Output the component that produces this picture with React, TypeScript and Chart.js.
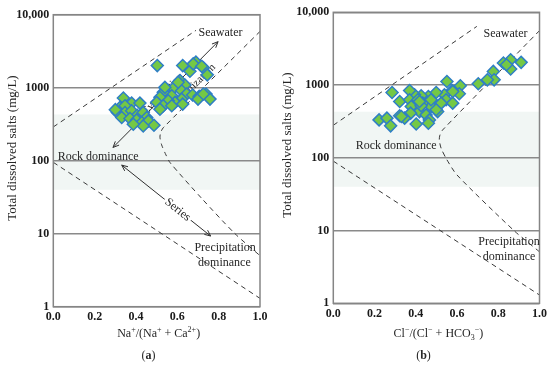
import React, { useEffect, useRef } from "react";
import { Chart, registerables } from "chart.js";

Chart.register(...registerables);

const SERIF = '"Liberation Serif", "Times New Roman", Times, serif';

// ---------- axes ----------
const xTickValues = [0, 0.2, 0.4, 0.6, 0.8, 1.0];
const yTickValues = [1, 10, 100, 1000, 10000];
const yTickLabels = ["1", "10", "100", "1000", "10,000"];

// ---------- panel (a): Na+/(Na+ + Ca2+) vs TDS ----------
const naRatio = [
  0.503, 0.626, 0.69, 0.726, 0.661, 0.745, 0.613, 0.637, 0.581, 0.621,
  0.532, 0.573, 0.516, 0.645, 0.674, 0.706, 0.739, 0.758, 0.621, 0.589,
  0.556, 0.5, 0.532, 0.573, 0.626, 0.516, 0.339, 0.379, 0.419, 0.323,
  0.347, 0.31, 0.347, 0.379, 0.406, 0.435, 0.452, 0.331, 0.371, 0.403,
  0.428, 0.46, 0.487, 0.435, 0.387, 0.3, 0.677, 0.718, 0.604, 0.54,
  0.7, 0.726,
];
const naTds = [
  2010, 2010, 2240, 1870, 1680, 1500, 1250, 1090, 980, 910,
  863, 776, 738, 819, 793, 760, 819, 698, 698, 630,
  662, 630, 565, 565, 596, 508, 722, 615, 615, 537,
  565, 458, 458, 482, 420, 458, 391, 391, 378, 362,
  333, 351, 306, 299, 316, 500, 2120, 1970, 1190, 1010,
  698, 819,
];

// ---------- panel (b): Cl-/(Cl- + HCO3-) vs TDS ----------
const clRatio = [
  0.86, 0.825, 0.911, 0.86, 0.776, 0.78, 0.747, 0.703, 0.551, 0.616,
  0.611, 0.576, 0.539, 0.499, 0.461, 0.426, 0.394, 0.37, 0.285, 0.322,
  0.37, 0.41, 0.434, 0.474, 0.506, 0.547, 0.579, 0.378, 0.418, 0.45,
  0.466, 0.461, 0.402, 0.375, 0.322, 0.346, 0.222, 0.26, 0.278, 0.474,
  0.426, 0.523, 0.84, 0.418, 0.499, 0.579, 0.33,
];
const clTds = [
  2230, 2010, 2050, 1660, 1540, 1180, 1180, 1040, 1120, 980,
  759, 843, 735, 791, 697, 711, 735, 843, 791, 594,
  627, 627, 564, 507, 432, 627, 564, 507, 432, 389,
  332, 299, 292, 411, 378, 351, 332, 351, 275, 627,
  520, 564, 1900, 594, 457, 816, 369,
];

// ---------- Gibbs boundary curves ----------
const aUpperX = [0, 0.69];
const aUpperY = [290, 6100];
const aRightX = [1.0, 0.532, 0.52, 0.516, 0.524, 0.545, 0.565, 0.72, 0.879, 1.0];
const aRightY = [5900, 283, 245, 210, 165, 120, 94, 30, 10, 5];
const aLowerX = [0, 1];
const aLowerY = [95, 1.3];

const bUpperX = [0, 0.696];
const bUpperY = [280, 6400];
const bRightX = [1.0, 0.53, 0.517, 0.514, 0.523, 0.55, 0.6, 0.876, 1.0];
const bRightY = [5600, 241, 205, 176, 135, 95, 58, 10, 5.1];
const bLowerX = [0, 1];
const bLowerY = [90, 1.3];

// shaded rock-dominance band (TDS)
const bandRange = [40, 430];

type Part = { t: string; s?: "sup" | "sub"; b?: boolean };
type Note = { text: string; x: number; y: number; size?: number };
type Arrow = { x1: number; y1: number; x2: number; y2: number; label?: string; at?: number };

interface Panel {
  xs: number[];
  ys: number[];
  bounds: [number[], number[]][];
  yAxisWidth: number;
  xAxisHeight: number;
  padTop: number;
  padRight: number;
  xTitle: Part[];
  letter: string;
  yTitle: [number, number];
  notes: Note[];
  arrows: Arrow[];
  under: Note[];
}

const panelA: Panel = {
  xs: naRatio,
  ys: naTds,
  bounds: [
    [aUpperX, aUpperY],
    [aRightX, aRightY],
    [aLowerX, aLowerY],
  ],
  yAxisWidth: 53.3,
  xAxisHeight: 58.3,
  padTop: 14.7,
  padRight: 15,
  xTitle: [
    { t: "Na" }, { t: "+", s: "sup" }, { t: "/(Na" }, { t: "+", s: "sup" },
    { t: " + Ca" }, { t: "2+", s: "sup" }, { t: ")" },
  ],
  letter: "a",
  yTitle: [12.5, 148],
  notes: [
    { text: "Seawater", x: 0.809, y: 5680 },
    { text: "Rock dominance", x: 0.217, y: 114 },
    { text: "Precipitation", x: 0.831, y: 6.5 },
    { text: "dominance", x: 0.828, y: 4.05 },
  ],
  arrows: [
    { x1: 0.289, y1: 152, x2: 0.797, y2: 4270 },
    { x1: 0.331, y1: 87, x2: 0.761, y2: 9.3, label: "Series", at: 0.63 },
  ],
  under: [
    { text: "Evaporation", x: 0.53, y: 820, size: 11 },
    { text: "crystallization", x: 0.67, y: 1000, size: 11 },
  ],
};

const panelB: Panel = {
  xs: clRatio,
  ys: clTds,
  bounds: [
    [bUpperX, bUpperY],
    [bRightX, bRightY],
    [bLowerX, bLowerY],
  ],
  yAxisWidth: 58.3,
  xAxisHeight: 61.7,
  padTop: 12.3,
  padRight: 9.3,
  xTitle: [
    { t: "Cl" }, { t: "\u2212", s: "sup" }, { t: "/(Cl" }, { t: "\u2212", s: "sup" },
    { t: " + HCO" }, { t: "3", s: "sub" }, { t: "\u2212", s: "sup" }, { t: ")" },
  ],
  letter: "b",
  yTitle: [13, 145],
  notes: [
    { text: "Seawater", x: 0.835, y: 5100 },
    { text: "Rock dominance", x: 0.305, y: 146 },
    { text: "Precipitation", x: 0.852, y: 7.0 },
    { text: "dominance", x: 0.852, y: 4.35 },
  ],
  arrows: [],
  under: [],
};

const TEXT = "#262626";

function drawRich(ctx: CanvasRenderingContext2D, parts: Part[], cx: number, cy: number, size: number) {
  const font = (p: Part) =>
    `${p.b ? "bold " : ""}${p.s ? Math.round(size * 0.7) : size}px ${SERIF}`;
  let total = 0;
  for (const p of parts) {
    ctx.font = font(p);
    total += ctx.measureText(p.t).width;
  }
  let x = cx - total / 2;
  const base = cy + size * 0.33;
  ctx.textAlign = "left";
  ctx.textBaseline = "alphabetic";
  for (const p of parts) {
    ctx.font = font(p);
    const dy = p.s === "sup" ? -size * 0.4 : p.s === "sub" ? size * 0.25 : 0;
    ctx.fillText(p.t, x, base + dy);
    x += ctx.measureText(p.t).width;
  }
}

function head(ctx: CanvasRenderingContext2D, x: number, y: number, ang: number) {
  const L = 6.5, a = 0.42;
  ctx.beginPath();
  ctx.moveTo(x - L * Math.cos(ang - a), y - L * Math.sin(ang - a));
  ctx.lineTo(x, y);
  ctx.lineTo(x - L * Math.cos(ang + a), y - L * Math.sin(ang + a));
  ctx.stroke();
}

function decor(p: Panel) {
  return {
    id: "gibbsDecor",
    beforeDraw(chart: any) {
      const { ctx, chartArea: ca, scales } = chart;
      ctx.save();
      ctx.fillStyle = "#ffffff";
      ctx.fillRect(0, 0, chart.width, chart.height);
      const yTop = scales.y.getPixelForValue(bandRange[1]);
      const yBot = scales.y.getPixelForValue(bandRange[0]);
      ctx.fillStyle = "#f1f6f4";
      ctx.fillRect(ca.left, yTop, ca.right - ca.left, yBot - yTop);
      ctx.restore();
    },
    beforeDatasetsDraw(chart: any) {
      const { ctx, scales } = chart;
      const sx = scales.x, sy = scales.y;
      ctx.save();
      ctx.strokeStyle = "#303030";
      ctx.fillStyle = TEXT;
      ctx.lineWidth = 1;
      for (const a of p.arrows) {
        const x1 = sx.getPixelForValue(a.x1), y1 = sy.getPixelForValue(a.y1);
        const x2 = sx.getPixelForValue(a.x2), y2 = sy.getPixelForValue(a.y2);
        const ang = Math.atan2(y2 - y1, x2 - x1);
        ctx.beginPath();
        ctx.moveTo(x1, y1);
        ctx.lineTo(x2, y2);
        ctx.stroke();
        head(ctx, x2, y2, ang);
        head(ctx, x1, y1, ang + Math.PI);
        if (a.label) {
          const f = a.at ?? 0.5;
          const lx = x1 + (x2 - x1) * f, ly = y1 + (y2 - y1) * f;
          ctx.save();
          ctx.translate(lx, ly);
          ctx.rotate(ang);
          ctx.font = `12px ${SERIF}`;
          const w = ctx.measureText(a.label).width;
          ctx.fillStyle = "#ffffff";
          ctx.fillRect(-w / 2 - 2, -7, w + 4, 14);
          ctx.fillStyle = TEXT;
          ctx.textAlign = "center";
          ctx.textBaseline = "middle";
          ctx.fillText(a.label, 0, 0);
          ctx.restore();
        }
      }
      if (p.arrows.length && p.under.length) {
        const a = p.arrows[0];
        const ang = Math.atan2(
          sy.getPixelForValue(a.y2) - sy.getPixelForValue(a.y1),
          sx.getPixelForValue(a.x2) - sx.getPixelForValue(a.x1)
        );
        for (const n of p.under) {
          ctx.save();
          ctx.translate(sx.getPixelForValue(n.x), sy.getPixelForValue(n.y));
          ctx.rotate(ang);
          ctx.font = `${n.size ?? 12}px ${SERIF}`;
          ctx.fillStyle = TEXT;
          ctx.textAlign = "center";
          ctx.textBaseline = "middle";
          ctx.fillText(n.text, 0, 0);
          ctx.restore();
        }
      }
      ctx.restore();
    },
    afterDraw(chart: any) {
      const { ctx, chartArea: ca, scales } = chart;
      const sx = scales.x, sy = scales.y;
      ctx.save();
      // frame
      ctx.strokeStyle = "#858585";
      ctx.lineWidth = 1.5;
      ctx.strokeRect(ca.left, ca.top, ca.right - ca.left, ca.bottom - ca.top);
      // notes
      ctx.fillStyle = TEXT;
      ctx.textAlign = "center";
      ctx.textBaseline = "middle";
      for (const n of p.notes) {
        ctx.font = `${n.size ?? 12}px ${SERIF}`;
        ctx.fillText(n.text, sx.getPixelForValue(n.x), sy.getPixelForValue(n.y));
      }
      // y title
      ctx.save();
      ctx.translate(p.yTitle[0], p.yTitle[1]);
      ctx.rotate(-Math.PI / 2);
      ctx.font = `13px ${SERIF}`;
      ctx.fillText("Total dissolved salts (mg/L)", 0, 0);
      ctx.restore();
      // x title
      drawRich(ctx, p.xTitle, (ca.left + ca.right) / 2 + 2, 333, 12);
      // panel letter
      drawRich(ctx, [{ t: "(" }, { t: p.letter, b: true }, { t: ")" }], 148.5, 355, 12);
      ctx.restore();
    },
  };
}

function buildConfig(p: Panel): any {
  return {
    type: "scatter",
    data: {
      datasets: [
        {
          label: "samples",
          data: p.xs.map((x, i) => ({ x, y: p.ys[i] })),
          pointStyle: "rectRot",
          pointRadius: 6,
          pointHoverRadius: 6,
          backgroundColor: "#74c845",
          borderColor: "#2f7fc4",
          borderWidth: 1.5,
          pointBorderWidth: 1.5,
          order: 0,
        },
        ...p.bounds.map(([bx, by]) => ({
          label: "boundary",
          data: bx.map((x, i) => ({ x, y: by[i] })),
          showLine: true,
          pointRadius: 0,
          pointHoverRadius: 0,
          borderColor: "#3a3a3a",
          borderWidth: 1,
          borderDash: [5, 4],
          tension: bx.length > 2 ? 0.25 : 0,
          fill: false,
          order: 1,
        })),
      ],
    },
    options: {
      responsive: false,
      animation: false,
      devicePixelRatio: 1,
      events: [],
      layout: { padding: { left: 0, top: p.padTop, right: p.padRight, bottom: 0 } },
      plugins: { legend: { display: false }, tooltip: { enabled: false } },
      scales: {
        x: {
          type: "linear",
          min: 0,
          max: 1,
          afterBuildTicks: (s: any) => {
            s.ticks = xTickValues.map((v) => ({ value: v }));
          },
          afterFit: (s: any) => {
            s.height = p.xAxisHeight;
          },
          grid: { display: false, drawTicks: false },
          border: { display: false },
          ticks: {
            callback: (_v: any, i: number) => xTickValues[i].toFixed(1),
            font: { family: SERIF, size: 12, weight: "bold" },
            color: "#1a1a1a",
            padding: 3,
            maxRotation: 0,
            autoSkip: false,
          },
        },
        y: {
          type: "logarithmic",
          min: 1,
          max: 10000,
          afterBuildTicks: (s: any) => {
            s.ticks = yTickValues.map((v) => ({ value: v }));
          },
          afterFit: (s: any) => {
            s.width = p.yAxisWidth;
          },
          grid: { color: "#8a8a8a", lineWidth: 1.5, drawTicks: false },
          border: { display: false },
          ticks: {
            callback: (_v: any, i: number) => yTickLabels[i],
            font: { family: SERIF, size: 12, weight: "bold" },
            color: "#1a1a1a",
            padding: 4,
            autoSkip: false,
          },
        },
      },
    },
    plugins: [decor(p)],
  };
}

function PanelChart({ p, left }: { p: Panel; left: number }) {
  const ref = useRef<HTMLCanvasElement>(null);
  useEffect(() => {
    const chart = new Chart(ref.current as HTMLCanvasElement, buildConfig(p));
    return () => chart.destroy();
  }, [p]);
  return (
    <canvas
      ref={ref}
      width={275}
      height={365}
      style={{ position: "absolute", left, top: 0, width: 275, height: 365 }}
    />
  );
}

export default function App() {
  return (
    <div
      style={{
        position: "fixed",
        left: 0,
        top: 0,
        width: 550,
        height: 365,
        background: "#ffffff",
        overflow: "hidden",
      }}
    >
      <PanelChart p={panelA} left={0} />
      <PanelChart p={panelB} left={275} />
    </div>
  );
}
